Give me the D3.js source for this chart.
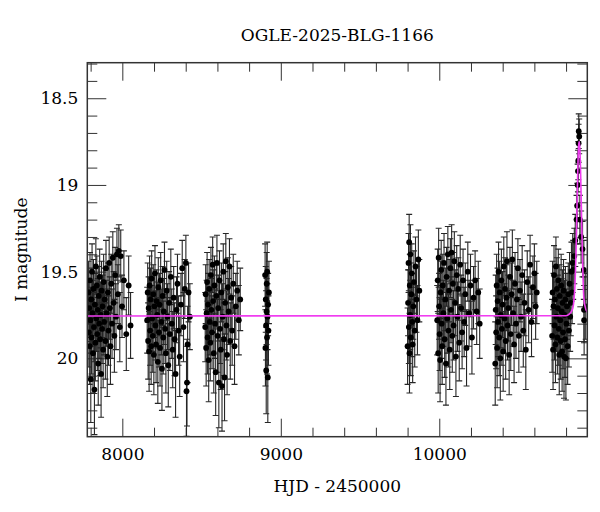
<!DOCTYPE html>
<html>
<head>
<meta charset="utf-8">
<script src="https://cdn.jsdelivr.net/npm/d3@7"></script>
<style>
body { margin: 0; background: #fff; }
text { font-family: "DejaVu Serif", serif; }
</style>
</head>
<body>
<div id="chart"></div>
<script>
// [HJD - 2450000, I mag, error]
var obs2017 = [
	[7786,19.62,0.18],[7789,19.85,0.20],[7791,19.71,0.17],[7794,19.93,0.22],[7796,19.55,0.16],
	[7799,19.78,0.19],[7801,20.12,0.25],[7804,19.66,0.18],[7806,19.88,0.21],[7809,19.50,0.16],
	[7812,19.74,0.19],[7815,19.97,0.23],[7818,19.60,0.17],[7821,19.82,0.20],[7824,20.18,0.26],
	[7827,19.69,0.18],[7830,19.91,0.22],[7833,19.47,0.16],[7836,19.77,0.19],[7839,19.58,0.17],
	[7842,19.86,0.21],[7845,19.72,0.18],[7848,20.03,0.24],[7851,19.64,0.17],[7854,19.80,0.20],
	[7857,19.53,0.16],[7860,19.89,0.21],[7863,19.75,0.19],[7866,20.09,0.25],[7869,19.61,0.17],
	[7872,19.83,0.20],[7875,19.70,0.18],[7879,19.95,0.22],[7882,19.56,0.16],[7885,19.79,0.19],
	[7889,19.66,0.18],[7893,19.90,0.22],[7897,19.48,0.16],[7901,19.74,0.19],[7905,19.99,0.23],
	[7909,19.62,0.17],[7913,19.84,0.20],[7917,19.45,0.15],[7921,19.71,0.18],[7925,19.93,0.22],
	[7930,19.57,0.17],[7935,19.80,0.20],[7940,19.42,0.15],[7945,19.68,0.18],[7950,19.87,0.21],
	[7955,19.52,0.16],[7960,19.76,0.19],[7966,19.40,0.15],[7972,19.63,0.17],[7978,19.38,0.15],
	[7984,19.82,0.20],[7990,19.41,0.15],[7998,19.70,0.18],[8010,19.55,0.17],[8025,19.86,0.21],
	[8040,19.58,0.17],[8052,19.81,0.19]
];
var obs2018 = [
	[8157,19.78,0.19],[8160,19.62,0.17],[8163,19.90,0.22],[8166,19.71,0.18],[8169,19.96,0.23],
	[8172,19.58,0.17],[8175,19.84,0.20],[8178,19.66,0.18],[8182,19.93,0.22],[8185,19.54,0.16],
	[8188,19.77,0.19],[8192,19.87,0.21],[8195,19.63,0.17],[8199,19.98,0.23],[8202,19.70,0.18],
	[8206,19.51,0.16],[8209,19.81,0.20],[8213,19.92,0.22],[8216,19.67,0.18],[8220,19.75,0.19],
	[8224,20.02,0.24],[8227,19.59,0.17],[8231,19.85,0.20],[8235,19.69,0.18],[8238,19.94,0.22],
	[8242,19.55,0.16],[8246,19.79,0.19],[8250,20.06,0.24],[8254,19.64,0.17],[8258,19.88,0.21],
	[8262,19.73,0.19],[8266,19.49,0.16],[8270,19.83,0.20],[8275,19.97,0.23],[8280,19.61,0.17],
	[8285,19.76,0.19],[8290,20.04,0.24],[8295,19.68,0.18],[8300,19.86,0.21],[8306,19.53,0.16],
	[8312,19.80,0.20],[8318,19.95,0.22],[8324,19.65,0.18],[8330,19.89,0.21],[8336,20.09,0.25],
	[8342,19.72,0.19],[8348,19.57,0.17],[8355,19.84,0.20],[8362,19.99,0.23],[8370,19.69,0.18],
	[8378,19.48,0.16],[8386,19.82,0.20],[8394,19.60,0.17],[8401,19.45,0.16],[8405,20.19,0.26],
	[8408,20.14,0.25],[8412,19.92,0.22],[8418,19.62,0.17],[8426,19.76,0.19]
];
var obs2019 = [
	[8523,19.82,0.20],[8526,19.63,0.17],[8529,19.94,0.22],[8532,19.74,0.19],[8535,19.56,0.17],
	[8538,19.88,0.21],[8541,19.69,0.18],[8545,20.01,0.24],[8548,19.60,0.17],[8552,19.79,0.19],
	[8555,19.91,0.22],[8559,19.52,0.16],[8562,19.72,0.18],[8566,19.85,0.21],[8570,19.46,0.16],
	[8573,19.67,0.18],[8577,19.97,0.23],[8581,19.58,0.17],[8585,19.80,0.20],[8589,20.08,0.25],
	[8593,19.64,0.18],[8597,19.45,0.16],[8601,19.87,0.21],[8605,19.71,0.19],[8609,20.14,0.26],
	[8613,19.55,0.17],[8617,19.83,0.20],[8621,19.95,0.23],[8625,19.62,0.17],[8629,20.16,0.26],
	[8633,19.76,0.19],[8637,19.50,0.16],[8641,19.89,0.21],[8645,20.11,0.25],[8649,19.68,0.18],
	[8653,19.44,0.16],[8657,19.81,0.20],[8661,19.98,0.23],[8666,19.59,0.17],[8671,19.73,0.19],
	[8676,19.47,0.16],[8681,19.90,0.22],[8687,19.65,0.18],[8693,19.84,0.20],[8700,19.57,0.17],
	[8708,19.93,0.22],[8716,19.70,0.19],[8725,19.61,0.17],[8735,19.78,0.20],[8744,19.66,0.18]
];
var obs2020 = [
	[8901,19.52,0.18],[8903,19.94,0.22],[8905,19.66,0.19],[8907,19.81,0.20],[8908,20.07,0.25],
	[8910,19.73,0.19],[8911,19.57,0.18],[8913,19.88,0.21],[8914,19.50,0.17],[8916,19.76,0.19],
	[8918,20.11,0.26],[8920,19.69,0.18],[8922,19.84,0.20],[8925,19.62,0.18]
];
var obs2022 = [
	[9800,19.93,0.22],[9803,19.68,0.19],[9806,19.45,0.17],[9808,19.82,0.21],[9810,19.33,0.16],
	[9812,19.97,0.23],[9814,19.58,0.18],[9816,19.75,0.20],[9818,19.40,0.17],[9820,19.88,0.22],
	[9823,19.63,0.18],[9826,19.51,0.17],[9829,19.79,0.20],[9832,19.92,0.22],[9836,19.70,0.19],
	[9840,19.56,0.18],[9845,19.84,0.21],[9850,19.47,0.17],[9856,19.66,0.19],[9862,19.78,0.20],
	[9868,19.43,0.17],[9874,19.61,0.18]
];
var obs2023 = [
	[9987,19.78,0.20],[9990,19.55,0.18],[9993,19.97,0.23],[9996,19.42,0.17],[9999,19.70,0.19],
	[10002,19.86,0.21],[10005,20.01,0.24],[10008,19.62,0.18],[10012,19.49,0.17],[10015,19.80,0.20],
	[10018,19.93,0.22],[10022,19.58,0.18],[10026,19.74,0.19],[10030,19.45,0.17],[10034,19.89,0.22],
	[10038,19.66,0.18],[10042,20.03,0.24],[10046,19.53,0.17],[10050,19.77,0.20],[10054,19.40,0.16],
	[10058,19.84,0.21],[10062,19.61,0.18],[10066,19.95,0.23],[10070,19.48,0.17],[10074,19.72,0.19],
	[10078,19.39,0.16],[10082,19.87,0.21],[10086,19.57,0.18],[10090,19.81,0.20],[10095,19.44,0.17],
	[10100,19.68,0.19],[10105,19.99,0.23],[10110,19.52,0.17],[10115,19.76,0.20],[10120,19.60,0.18],
	[10126,19.91,0.22],[10132,19.46,0.17],[10138,19.71,0.19],[10144,19.85,0.21],[10150,19.55,0.18],
	[10157,19.79,0.20],[10164,19.63,0.18],[10172,19.94,0.22],[10180,19.50,0.17],[10188,19.74,0.19],
	[10197,19.58,0.18],[10206,19.88,0.21],[10216,19.65,0.18],[10226,19.55,0.17],[10236,19.73,0.19],
	[10246,19.62,0.18],[10255,19.80,0.20]
];
var obs2024 = [
	[10353,20.03,0.24],[10356,19.72,0.20],[10359,19.85,0.21],[10362,19.58,0.18],[10365,19.94,0.23],
	[10368,19.67,0.19],[10371,19.79,0.20],[10374,19.50,0.17],[10378,19.88,0.22],[10381,19.62,0.18],
	[10385,20.00,0.24],[10388,19.75,0.19],[10392,19.55,0.18],[10395,19.83,0.21],[10399,19.69,0.19],
	[10403,19.96,0.23],[10407,19.47,0.17],[10411,19.77,0.20],[10415,19.60,0.18],[10419,19.90,0.22],
	[10423,19.65,0.19],[10427,19.44,0.17],[10431,19.81,0.20],[10436,19.71,0.19],[10441,19.98,0.23],
	[10446,19.53,0.17],[10451,19.86,0.21],[10456,19.63,0.18],[10461,19.43,0.17],[10466,19.74,0.19],
	[10472,19.92,0.22],[10478,19.57,0.18],[10484,19.80,0.20],[10490,19.66,0.19],[10496,19.48,0.17],
	[10502,19.87,0.21],[10509,19.61,0.18],[10516,19.76,0.20],[10523,19.52,0.17],[10530,19.84,0.21],
	[10538,19.68,0.19],[10546,19.95,0.23],[10555,19.56,0.18],[10564,19.72,0.19],[10573,19.46,0.17],
	[10582,19.79,0.20],[10591,19.59,0.18],[10600,19.51,0.17],[10608,19.70,0.19],[10615,19.62,0.18]
];
var obs2025 = [
	[10712,19.87,0.21],[10715,19.62,0.18],[10718,19.95,0.23],[10721,19.70,0.19],[10724,19.52,0.17],
	[10727,19.81,0.20],[10730,19.66,0.19],[10733,19.92,0.22],[10736,19.47,0.17],[10739,19.76,0.20],
	[10742,19.60,0.18],[10745,19.88,0.21],[10748,19.71,0.19],[10751,19.55,0.18],[10754,19.83,0.21],
	[10757,19.98,0.23],[10760,19.64,0.18],[10763,19.78,0.20],[10766,19.90,0.22],[10769,19.58,0.18],
	[10772,19.73,0.19],[10775,19.96,0.23],[10778,19.68,0.19],[10781,19.85,0.21],[10784,19.61,0.18],
	[10787,19.99,0.24],[10790,19.75,0.20],[10793,19.89,0.22],[10796,19.66,0.19],[10799,20.00,0.24],
	[10802,19.80,0.20],[10806,19.70,0.19],[10810,19.93,0.22],[10814,19.63,0.18],[10818,19.84,0.21],
	[10822,19.57,0.18],[10826,19.76,0.20],[10830,19.68,0.19],[10834,19.50,0.17],[10838,19.62,0.18],
	[10842,19.45,0.17],[10845,19.49,0.17],[10852,19.41,0.16],[10858,19.32,0.15],[10866,19.20,0.14],
	[10870,19.12,0.13],[10873,19.00,0.12],[10875,18.92,0.12],[10877,18.86,0.11],[10879,18.76,0.11],
	[10880,18.69,0.10],[10883,18.72,0.10],[10887,19.20,0.14],[10895,19.30,0.15],[10904,19.37,0.16],
	[10912,19.49,0.17],[10913,19.72,0.19],[10914,19.78,0.20],[10924,19.70,0.19]
];

// model curve
var modelHjd = [7779, 10800, 10820, 10835, 10845, 10850, 10856, 10862, 10867, 10871, 10875, 10879,
	10883, 10887, 10891, 10895, 10899, 10904, 10908, 10912, 10920, 10934];
var modelMag = [19.756, 19.754, 19.745, 19.728, 19.70, 19.66, 19.58, 19.42, 19.22, 19.03, 18.88, 18.78,
	18.75, 18.79, 18.90, 19.06, 19.23, 19.43, 19.56, 19.65, 19.70, 19.735];

var xTicks = [8000, 9000, 10000];
var yTicks = [18.5, 19, 19.5, 20];
var titleText = "OGLE-2025-BLG-1166";
var xLabel = "HJD - 2450000";
var yLabel = "I magnitude";

var obs = [].concat(obs2017, obs2018, obs2019, obs2020, obs2022, obs2023, obs2024, obs2025);

var pLeft = 87.3, pRight = 587.3, pTop = 62.7, pBottom = 436.7;

var x = d3.scaleLinear().domain([7779, 10934]).range([pLeft, pRight]);
var y = d3.scaleLinear().domain([18.295, 20.452]).range([pTop, pBottom]);

var svg = d3.select("#chart").append("svg")
	.attr("width", 600)
	.attr("height", 512);

svg.append("clipPath").attr("id", "clip")
	.append("rect")
	.attr("x", pLeft).attr("y", pTop)
	.attr("width", pRight - pLeft).attr("height", pBottom - pTop);

var xMinor = d3.range(7800, 10934, 200).filter(function (d) { return d % 1000 != 0; });
var yMinor = d3.range(183, 205).map(function (d) { return d / 10; }).filter(function (d) { return yTicks.indexOf(d) < 0; });

function drawTicks(axis, tr, values, size, pad, labels) {
	var g = svg.append("g")
		.attr("transform", tr)
		.call(axis.tickValues(values).tickSize(size).tickPadding(pad)
			.tickFormat(labels ? function (d) { return String(d); } : ""));
	g.select(".domain").remove();
	g.selectAll("line").attr("stroke", "#333").attr("stroke-width", 1);
	g.selectAll("text").attr("fill", "#000").style("font-size", "17px").style("font-family", "DejaVu Serif");
	return g;
}

drawTicks(d3.axisBottom(x), "translate(0," + pBottom + ")", xTicks, -18, 11, true);
drawTicks(d3.axisBottom(x), "translate(0," + pBottom + ")", xMinor, -9, 0, false);
drawTicks(d3.axisTop(x), "translate(0," + pTop + ")", xTicks, -18, 0, false);
drawTicks(d3.axisTop(x), "translate(0," + pTop + ")", xMinor, -9, 0, false);
drawTicks(d3.axisLeft(y), "translate(" + pLeft + ",0)", yTicks, -19, 9, true);
drawTicks(d3.axisLeft(y), "translate(" + pLeft + ",0)", yMinor, -10, 0, false);
drawTicks(d3.axisRight(y), "translate(" + pRight + ",0)", yTicks, -19, 0, false);
drawTicks(d3.axisRight(y), "translate(" + pRight + ",0)", yMinor, -10, 0, false);

var plot = svg.append("g").attr("clip-path", "url(#clip)");

// error bars
var bars = plot.selectAll(".bar")
	.data(obs)
	.enter()
	.append("g")
	.attr("class", "bar")
	.attr("stroke", "#262626")
	.attr("stroke-width", 1.1);
bars.append("line")
	.attr("x1", function (d) { return x(d[0]); })
	.attr("x2", function (d) { return x(d[0]); })
	.attr("y1", function (d) { return y(d[1] - d[2]); })
	.attr("y2", function (d) { return y(d[1] + d[2]); });
bars.append("line")
	.attr("x1", function (d) { return x(d[0]) - 3; })
	.attr("x2", function (d) { return x(d[0]) + 3; })
	.attr("y1", function (d) { return y(d[1] - d[2]); })
	.attr("y2", function (d) { return y(d[1] - d[2]); });
bars.append("line")
	.attr("x1", function (d) { return x(d[0]) - 3; })
	.attr("x2", function (d) { return x(d[0]) + 3; })
	.attr("y1", function (d) { return y(d[1] + d[2]); })
	.attr("y2", function (d) { return y(d[1] + d[2]); });

plot.selectAll(".pt")
	.data(obs)
	.enter()
	.append("circle")
	.attr("class", "pt")
	.attr("cx", function (d) { return x(d[0]); })
	.attr("cy", function (d) { return y(d[1]); })
	.attr("r", 2.9)
	.style("fill", "#000");

var model = modelHjd.map(function (t, i) { return [t, modelMag[i]]; });
plot.append("path")
	.datum(model)
	.attr("fill", "none")
	.attr("stroke", "#f03cf0")
	.attr("stroke-width", 1.6)
	.attr("d", d3.line()
		.x(function (d) { return x(d[0]); })
		.y(function (d) { return y(d[1]); })
		.curve(d3.curveMonotoneX));

// frame
svg.append("rect")
	.attr("x", pLeft).attr("y", pTop)
	.attr("width", pRight - pLeft).attr("height", pBottom - pTop)
	.attr("fill", "none")
	.attr("stroke", "#333")
	.attr("stroke-width", 1.5);

svg.append("text")
	.attr("x", (pLeft + pRight) / 2).attr("y", 41)
	.attr("text-anchor", "middle")
	.style("font-size", "17px")
	.text(titleText);

svg.append("text")
	.attr("x", (pLeft + pRight) / 2).attr("y", 492)
	.attr("text-anchor", "middle")
	.style("font-size", "17px")
	.text(xLabel);

svg.append("text")
	.attr("transform", "translate(27," + (pTop + pBottom) / 2 + ") rotate(-90)")
	.attr("text-anchor", "middle")
	.style("font-size", "17px")
	.text(yLabel);
</script>
</body>
</html>
